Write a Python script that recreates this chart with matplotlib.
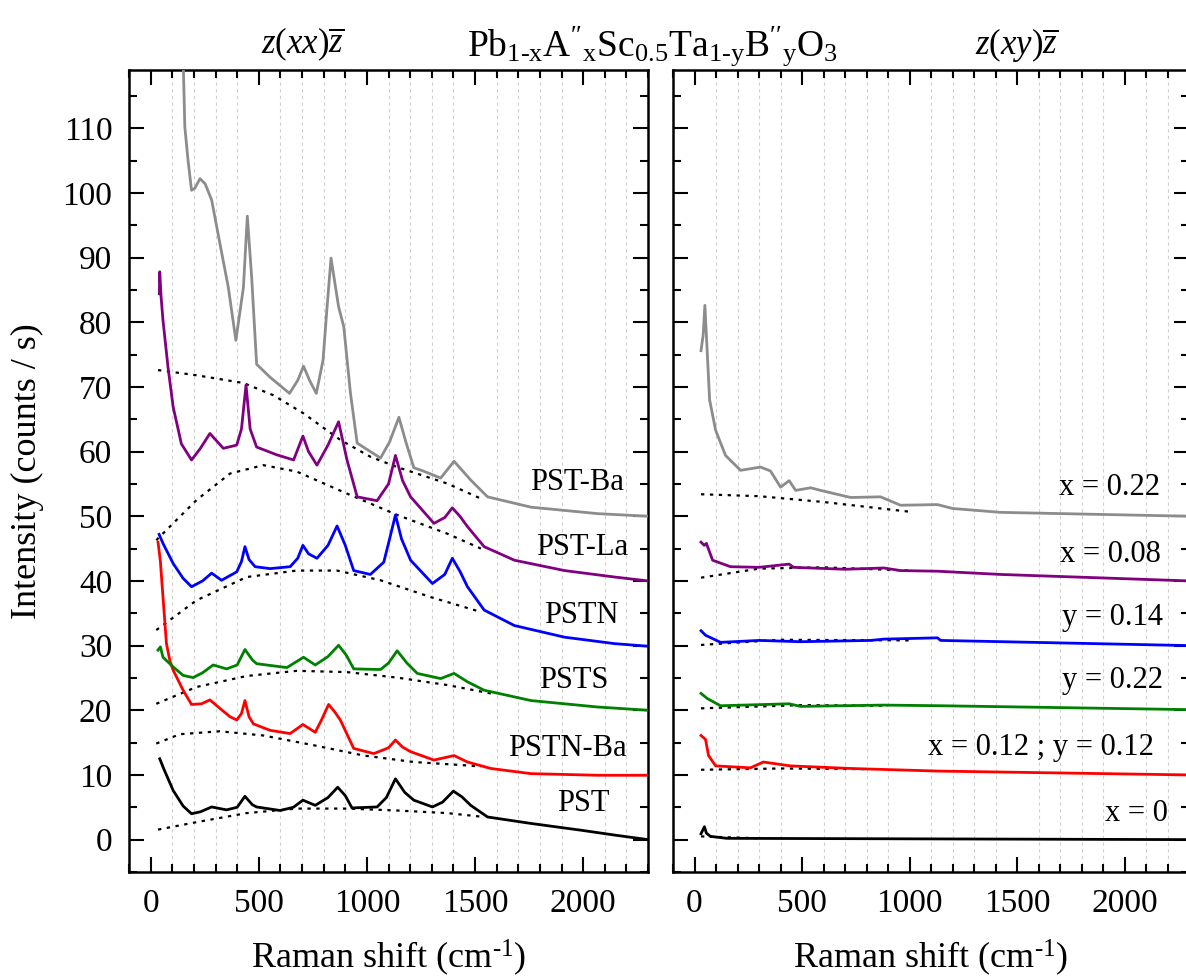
import matplotlib
matplotlib.use("Agg")
import matplotlib.pyplot as plt
from matplotlib.ticker import MultipleLocator

plt.rcParams["font.family"] = ["Liberation Serif", "DejaVu Serif"]
plt.rcParams["mathtext.fontset"] = "custom"
plt.rcParams["mathtext.rm"] = "Liberation Serif"
plt.rcParams["mathtext.it"] = "Liberation Serif:italic"

# ---- z(xx)z spectra (left panel) ----
pst_x = [42, 60, 104, 150, 189, 230, 282, 351, 400, 436, 470, 490, 599, 660, 704, 761, 820, 865, 900, 931,
         1047, 1090, 1132, 1175, 1217, 1303, 1350, 1400, 1440, 1480, 1558, 1759, 1991, 2146, 2300]
pst_y = [12.5, 11.0, 7.6, 5.2, 4.0, 4.3, 5.05, 4.6, 5.0, 6.7, 5.4, 5.05, 4.5, 5.0, 6.1, 5.3, 6.5, 8.1, 6.8, 4.9,
         5.05, 6.5, 9.4, 7.3, 6.1, 5.05, 5.8, 7.5, 6.6, 5.3, 3.5, 2.5, 1.45, 0.7, 0.0]
pst_bx = [34, 212, 444, 676, 908, 1140, 1372, 1542]
pst_by = [1.55, 2.7, 4.1, 4.8, 4.8, 4.5, 4.1, 3.5]

pstnba_x = [34, 45, 57, 73, 90, 104, 150, 189, 235, 274, 320, 367, 398, 420, 436, 455, 475, 552, 645, 704,
            761, 790, 823, 850, 877, 939, 1032, 1100, 1132, 1165, 1202, 1310, 1403, 1465, 1573, 1759, 2068, 2300]
pstnba_y = [46.0, 43.0, 37.5, 30.3, 27.5, 26.2, 23.1, 20.9, 21.0, 21.6, 20.3, 19.0, 18.5, 19.5, 21.5, 19.0, 17.9,
            16.9, 16.4, 17.8, 16.6, 18.5, 20.9, 19.8, 18.5, 14.1, 13.3, 14.2, 15.4, 14.3, 13.6, 12.3, 13.0, 12.0,
            11.0, 10.2, 9.95, 9.95]
pstnba_bx = [26, 135, 320, 521, 753, 985, 1217, 1450, 1527]
pstnba_by = [14.85, 16.3, 16.75, 16.1, 14.6, 13.0, 12.0, 11.5, 11.3]

psts_x = [34, 45, 57, 104, 150, 196, 240, 289, 351, 400, 436, 470, 490, 630, 707, 761, 820, 869, 905, 939,
          1063, 1100, 1140, 1185, 1233, 1341, 1403, 1465, 1542, 1759, 2068, 2300]
psts_y = [29.3, 29.8, 28.2, 26.7, 25.4, 25.05, 25.8, 27.0, 26.4, 27.0, 29.4, 27.8, 27.2, 26.6, 28.2, 27.0, 28.3,
          30.05, 28.5, 26.4, 26.3, 27.3, 29.2, 27.3, 25.7, 24.9, 25.7, 24.4, 23.1, 21.5, 20.5, 20.0]
psts_bx = [26, 212, 444, 676, 908, 1140, 1372, 1573]
psts_by = [21.0, 23.6, 25.3, 26.1, 25.9, 25.05, 23.9, 22.6]

pstn_x = [39, 57, 104, 150, 189, 240, 282, 328, 398, 420, 436, 455, 483, 552, 645, 680, 704, 730, 769, 820,
          862, 900, 939, 1016, 1078, 1105, 1132, 1160, 1202, 1303, 1360, 1395, 1430, 1465, 1542, 1682, 1914,
          2146, 2300]
pstn_y = [47.2, 45.8, 42.7, 40.4, 39.1, 40.0, 41.2, 40.1, 41.4, 43.0, 45.3, 43.3, 42.2, 41.9, 42.2, 43.5, 45.5,
          44.2, 43.5, 45.5, 48.5, 45.5, 41.6, 41.0, 42.9, 46.5, 50.2, 46.5, 43.2, 39.6, 41.0, 43.5, 41.5, 39.1,
          35.5, 33.1, 31.3, 30.3, 29.9]
pstn_bx = [26, 212, 444, 676, 862, 1063, 1295, 1527]
pstn_by = [32.4, 37.0, 40.6, 41.6, 41.6, 40.1, 37.5, 35.2]

pstla_x = [40, 42, 48, 57, 80, 104, 142, 189, 230, 274, 336, 398, 420, 441, 460, 490, 583, 661, 704, 730,
           769, 820, 869, 908, 955, 1047, 1100, 1132, 1165, 1202, 1310, 1360, 1395, 1430, 1465, 1542, 1682,
           1914, 2146, 2300]
pstla_y = [84.4, 87.8, 84.0, 80.3, 73.1, 66.9, 61.2, 58.7, 60.5, 62.8, 60.5, 61.0, 63.5, 70.3, 63.5, 60.7,
           59.5, 58.7, 62.4, 60.0, 57.9, 61.0, 64.6, 58.7, 53.0, 52.4, 55.0, 59.4, 55.5, 53.0, 48.9, 49.8, 51.3,
           50.0, 48.4, 45.3, 43.2, 41.6, 40.6, 40.0]
pstla_bx = [26, 212, 367, 521, 676, 908, 1140, 1372, 1527]
pstla_by = [46.3, 52.5, 56.6, 57.9, 56.9, 53.5, 50.2, 47.3, 45.0]

pstba_x = [147, 158, 173, 189, 204, 228, 252, 282, 320, 359, 394, 429, 447, 467, 490, 552, 642, 680, 707,
           735, 766, 797, 815, 834, 869, 893, 924, 955, 1063, 1105, 1148, 1180, 1217, 1260, 1341, 1403, 1480,
           1558, 1759, 2068, 2300]
pstba_y = [125.0, 110.2, 105.0, 100.4, 100.7, 102.2, 101.4, 98.9, 92.2, 85.4, 77.2, 85.4, 96.4, 87.0, 73.5,
           71.5, 69.0, 71.0, 73.2, 71.0, 69.0, 74.1, 82.0, 89.9, 82.4, 79.3, 69.0, 61.3, 59.0, 61.5, 65.3, 61.5,
           57.5, 57.0, 55.9, 58.5, 55.6, 53.0, 51.4, 50.4, 50.0]
pstba_bx = [34, 212, 429, 568, 707, 877, 1016, 1140, 1372, 1542]
pstba_by = [72.6, 71.8, 70.6, 68.7, 65.9, 61.8, 59.2, 57.6, 55.05, 52.5]

xx_names = ["PST", "PSTN-Ba", "PSTS", "PSTN", "PST-La", "PST-Ba"]
xx_label_x = [2000, 1925, 1955, 1993, 1993, 1973]
xx_label_y = [5.6, 14.1, 24.6, 34.7, 45.2, 55.2]

# ---- z(xy)z spectra (right panel) ----
xy0_x = [30, 46, 55, 74, 150, 2300]
xy0_y = [0.9, 2.0, 1.0, 0.5, 0.2, 0.0]
xy0_bx = [30, 300]
xy0_by = [0.5, 0.2]

xy1_x = [30, 51, 65, 98, 260, 320, 446, 726, 1130, 2300]
xy1_y = [16.1, 15.5, 13.0, 11.4, 11.1, 12.0, 11.4, 11.0, 10.6, 10.0]
xy1_bx = [30, 400, 800]
xy1_by = [10.8, 11.0, 10.9]

xy2_x = [30, 60, 121, 440, 493, 880, 1144, 2300]
xy2_y = [22.6, 21.8, 20.7, 21.0, 20.6, 20.8, 20.7, 20.1]
xy2_bx = [30, 500, 900]
xy2_by = [20.3, 20.8, 20.7]

xy3_x = [30, 51, 121, 300, 493, 819, 880, 1130, 1144, 2300]
xy3_y = [32.3, 31.6, 30.5, 30.8, 30.6, 30.8, 31.0, 31.2, 30.8, 30.0]
xy3_bx = [30, 400, 1000]
xy3_by = [30.1, 30.9, 30.8]

xy4_x = [30, 45, 55, 84, 167, 300, 440, 460, 540, 700, 880, 958, 1130, 1423, 2300]
xy4_y = [46.0, 45.5, 45.8, 43.2, 42.2, 42.1, 42.6, 42.1, 42.0, 41.8, 42.0, 41.6, 41.5, 41.0, 40.0]
xy4_bx = [30, 300, 600, 1000]
xy4_by = [40.5, 41.9, 42.1, 41.6]

xy5_x = [30, 40, 48, 58, 70, 98, 144, 214, 307, 353, 400, 440, 470, 540, 586, 726, 865, 958, 1130, 1200,
         1423, 2300]
xy5_y = [75.6, 78.0, 82.6, 76.0, 68.0, 63.3, 59.4, 57.1, 57.6, 57.0, 54.5, 55.5, 54.0, 54.4, 54.0, 52.9, 53.0,
         51.7, 51.8, 51.2, 50.6, 50.0]
xy5_bx = [30, 300, 600, 1000]
xy5_by = [53.4, 53.1, 52.2, 50.7]

xy_names = ["x = 0", "x = 0.12 ; y = 0.12", "y = 0.22", "y = 0.14", "x = 0.08", "x = 0.22"]
xy_label_x = [2200, 2135, 2181, 2181, 2167, 2167]
xy_label_y = [4.0, 14.2, 24.6, 34.4, 44.1, 54.5]

colors = ["black", "red", "green", "blue", "purple", "#8c8c8c"]

xx_lines = [(pst_x, pst_y, pst_bx, pst_by), (pstnba_x, pstnba_y, pstnba_bx, pstnba_by),
            (psts_x, psts_y, psts_bx, psts_by), (pstn_x, pstn_y, pstn_bx, pstn_by),
            (pstla_x, pstla_y, pstla_bx, pstla_by), (pstba_x, pstba_y, pstba_bx, pstba_by)]
xy_lines = [(xy0_x, xy0_y, xy0_bx, xy0_by), (xy1_x, xy1_y, xy1_bx, xy1_by),
            (xy2_x, xy2_y, xy2_bx, xy2_by), (xy3_x, xy3_y, xy3_bx, xy3_by),
            (xy4_x, xy4_y, xy4_bx, xy4_by), (xy5_x, xy5_y, xy5_bx, xy5_by)]

fig = plt.figure(figsize=(11.86, 9.76), dpi=100)
ax_l = fig.add_axes([0.1088, 0.1066, 0.4376, 0.8217])
ax_r = fig.add_axes([0.5675, 0.1066, 0.4351, 0.8217])

for ax, lines, names, lx, ly, ha in ((ax_l, xx_lines, xx_names, xx_label_x, xx_label_y, "center"),
                                     (ax_r, xy_lines, xy_names, xy_label_x, xy_label_y, "right")):
    for (x, y, bx, by), c in zip(lines, colors):
        ax.plot(bx, by, color="black", lw=1.6, ls=(0, (1.5, 2.5)), zorder=2)
        ax.plot(x, y, color=c, lw=2.0, zorder=3)
    for name, tx, ty in zip(names, lx, ly):
        ax.text(tx, ty, name, ha=ha, va="center", fontsize=22, zorder=4)
    ax.set_xlim(-100, 2300)
    ax.set_ylim(-5, 119)
    ax.xaxis.set_major_locator(MultipleLocator(500))
    ax.xaxis.set_minor_locator(MultipleLocator(100))
    ax.yaxis.set_major_locator(MultipleLocator(10))
    ax.yaxis.set_minor_locator(MultipleLocator(5))
    ax.tick_params(which="both", direction="in", top=True, right=True, width=1.5)
    ax.tick_params(which="major", length=11, labelsize=24, pad=12)
    ax.tick_params(which="minor", length=6)
    ax.grid(True, which="minor", axis="x", color="#cfcfcf", ls=(0, (3, 3)), lw=0.8)
    for s in ax.spines.values():
        s.set_linewidth(1.8)
    ax.set_xlabel(r"Raman shift (cm$^{\mathrm{\text{-}1}}$)", fontsize=26, labelpad=13)

ax_r.tick_params(labelleft=False)
ax_l.set_ylabel("Intensity (counts / s)", fontsize=26, labelpad=13)

fig.text(0.2555, 0.945, r"$z(xx)\overline{z}$", ha="center", va="baseline", fontsize=25)
fig.text(0.8575, 0.945, r"$z(xy)\overline{z}$", ha="center", va="baseline", fontsize=25)
fig.text(0.55, 0.943, r"$\mathrm{Pb_{1\text{-}x}A''_{x}Sc_{0.5}Ta_{1\text{-}y}B''_{y}O_{3}}$",
         ha="center", va="baseline", fontsize=27)

fig.savefig("out.png", dpi=100)
